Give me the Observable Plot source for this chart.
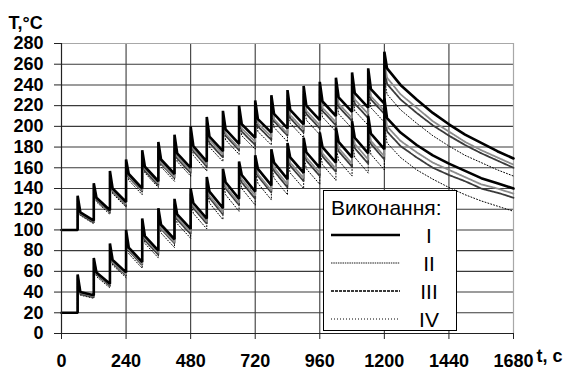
<!DOCTYPE html>
<html>
<head>
<meta charset="utf-8">
<script src="https://cdn.jsdelivr.net/npm/d3@7"></script>
<script src="https://cdn.jsdelivr.net/npm/@observablehq/plot@0.6"></script>
<style>
  html, body { margin: 0; padding: 0; background: #fff; }
  #wrap { position: relative; width: 572px; height: 373px; }
  #chart svg text { font-family: 'Liberation Sans', Arial, sans-serif; font-size: 18px; font-weight: bold; }
  #legend { position: absolute; left: 323px; top: 190px; width: 132px; height: 139px;
            border: 1.5px solid #000; background: #fff; }
</style>
</head>
<body>
<div id="wrap"><div id="chart"></div><div id="legend"></div></div>
<script>
// ---- axis ticks ----
const xTicks = [0, 240, 480, 720, 960, 1200, 1440, 1680];
const yTicks = [0, 20, 40, 60, 80, 100, 120, 140, 160, 180, 200, 220, 240, 260, 280];

// ---- pulse times (s) ----
const pulseTimes = [60, 120, 180, 240, 300, 360, 420, 480, 540, 600, 660, 720, 780, 840, 900, 960, 1020, 1080, 1140, 1200];
const coolTimes = [1260, 1320, 1380, 1440, 1500, 1560, 1620, 1680];

// ---- series labels ----
const variants = ["I", "II", "III", "IV"];

// ---- upper family (initial 100 °C), variant I ----
const upInit = 100;
const upPeakI   = [133, 145, 157, 168, 177, 185, 192, 200, 209, 215, 220, 225, 230, 235, 239, 243, 247, 252, 256, 272];
const upAfterI  = [117, 131, 140, 154, 161, 168, 174, 181, 190, 197, 202, 207, 212, 216, 220, 224, 228, 232, 236, 256];
const upBeforeI = [109, 119, 127, 140, 147, 154, 160, 166, 176, 183, 189, 194, 198, 202, 206, 210, 214, 218, 222];
const upCoolI   = [240, 226, 213, 202, 192, 184, 176, 169];
// lag of variants II, III, IV below variant I (°C)
const upLagII      = [1, 1, 2, 2, 2, 3, 3, 3, 3, 4, 4, 4, 5, 5, 5, 6, 6, 6, 7, 9];
const upLagIII     = [2, 2, 3, 3, 4, 4, 5, 5, 6, 6, 7, 7, 7, 8, 8, 9, 9, 10, 10, 15];
const upLagIV      = [3, 4, 5, 6, 6, 7, 8, 9, 10, 10, 11, 12, 13, 13, 14, 15, 16, 17, 18, 25];
const upCoolLagII  = [9, 8, 8, 7, 7, 7, 6, 6];
const upCoolLagIII = [14, 13, 12, 11, 10, 10, 9, 9];
const upCoolLagIV  = [24, 23, 22, 21, 20, 19, 18, 17];

// ---- lower family (initial 20 °C), variant I ----
const loInit = 20;
const loPeakI   = [57, 73, 87, 100, 111, 121, 130, 140, 151, 159, 166, 172, 178, 184, 189, 194, 199, 205, 210, 227];
const loAfterI  = [40, 59, 71, 83, 94, 105, 115, 126, 137, 146, 153, 159, 165, 170, 175, 180, 185, 189, 193, 208];
const loBeforeI = [37, 48, 59, 69, 80, 91, 101, 111, 121, 130, 137, 143, 149, 155, 160, 165, 170, 174, 178];
const loCoolI   = [194, 182, 172, 164, 157, 150, 145, 140];
const loLagII      = [1, 1, 2, 2, 2, 3, 3, 3, 4, 4, 4, 5, 5, 5, 5, 6, 6, 6, 7, 8];
const loLagIII     = [2, 2, 3, 3, 4, 4, 5, 5, 6, 6, 7, 7, 8, 8, 8, 9, 9, 10, 10, 13];
const loLagIV      = [3, 4, 5, 6, 7, 8, 9, 10, 11, 12, 13, 14, 15, 15, 16, 17, 18, 19, 20, 24];
const loCoolLagII  = [8, 7, 7, 6, 6, 6, 5, 5];
const loCoolLagIII = [13, 12, 12, 11, 10, 10, 9, 9];
const loCoolLagIV  = [24, 24, 23, 23, 23, 22, 22, 22];

const zeros20 = new Array(20).fill(0), zeros8 = new Array(8).fill(0);

function buildSeries(id, variant, init, peak, after, before, cool, lag, coolLag) {
  const pts = [];
  pts.push({id, variant, t: 0, T: init});
  pts.push({id, variant, t: pulseTimes[0], T: init});
  for (let k = 0; k < pulseTimes.length; k++) {
    const t = pulseTimes[k];
    pts.push({id, variant, t, T: peak[k] - lag[k]});
    pts.push({id, variant, t: t + 10, T: after[k] - lag[k]});
    if (k < before.length) pts.push({id, variant, t: pulseTimes[k + 1], T: before[k] - lag[k]});
  }
  coolTimes.forEach((t, i) => pts.push({id, variant, t, T: cool[i] - coolLag[i]}));
  return pts;
}

const data = [
  ...buildSeries("up-I", "I", upInit, upPeakI, upAfterI, upBeforeI, upCoolI, zeros20, zeros8),
  ...buildSeries("up-II", "II", upInit, upPeakI, upAfterI, upBeforeI, upCoolI, upLagII, upCoolLagII),
  ...buildSeries("up-III", "III", upInit, upPeakI, upAfterI, upBeforeI, upCoolI, upLagIII, upCoolLagIII),
  ...buildSeries("up-IV", "IV", upInit, upPeakI, upAfterI, upBeforeI, upCoolI, upLagIV, upCoolLagIV),
  ...buildSeries("lo-I", "I", loInit, loPeakI, loAfterI, loBeforeI, loCoolI, zeros20, zeros8),
  ...buildSeries("lo-II", "II", loInit, loPeakI, loAfterI, loBeforeI, loCoolI, loLagII, loCoolLagII),
  ...buildSeries("lo-III", "III", loInit, loPeakI, loAfterI, loBeforeI, loCoolI, loLagIII, loCoolLagIII),
  ...buildSeries("lo-IV", "IV", loInit, loPeakI, loAfterI, loBeforeI, loCoolI, loLagIV, loCoolLagIV)
];

const styles = {
  I:   {stroke: "#000", strokeWidth: 2.6, strokeDasharray: null},
  II:  {stroke: "#8c8c8c", strokeWidth: 1.8, strokeDasharray: "1.5,0.8"},
  III: {stroke: "#3a3a3a", strokeWidth: 1.8, strokeDasharray: "3,1"},
  IV:  {stroke: "#000", strokeWidth: 1, strokeDasharray: "1,2"}
};

const lineMarks = ["IV", "III", "II", "I"].map(v =>
  Plot.line(data.filter(d => d.variant === v), {
    x: "t", y: "T", z: "id",
    stroke: styles[v].stroke, strokeWidth: styles[v].strokeWidth,
    strokeDasharray: styles[v].strokeDasharray, strokeLinejoin: "miter"
  })
);

const chart = Plot.plot({
  width: 572, height: 373,
  marginLeft: 61, marginRight: 59, marginTop: 43, marginBottom: 40,
  x: {domain: [0, 1680]},
  y: {domain: [0, 280]},
  style: {fontFamily: "'Liberation Sans', Arial, sans-serif", fontSize: "18px", fontWeight: "bold", color: "#000", background: "#fff"},
  marks: [
    Plot.gridY(yTicks.filter(v => v > 0 && v < 280), {stroke: "#3a3a3a", strokeOpacity: 1, strokeWidth: 1.1}),
    Plot.gridX(xTicks.filter(v => v > 0 && v < 1680), {stroke: "#3a3a3a", strokeOpacity: 1, strokeWidth: 1.1}),
    Plot.ruleY([280], {stroke: "#a8a8a8", strokeWidth: 1.2}),
    Plot.ruleX([1680], {stroke: "#a8a8a8", strokeWidth: 1.2}),
    ...lineMarks,
    Plot.ruleX([0], {stroke: "#222", strokeWidth: 1.2}),
    Plot.ruleY([0], {stroke: "#222", strokeWidth: 1.2}),
    Plot.axisY(yTicks, {tickSize: 7, tickPadding: 11, label: null, tickFormat: d => `${d}`, stroke: "#222", fontSize: 18}),
    Plot.axisX(xTicks, {tickSize: 6, tickPadding: 15, label: null, tickFormat: d => `${d}`, stroke: "#222", fontSize: 18}),
    Plot.text(["T,°C"], {frameAnchor: "top-left", dx: -53, dy: -27, textAnchor: "start", fontSize: 18, fontWeight: "bold"}),
    Plot.text(["t, c"], {frameAnchor: "bottom-right", dx: 23, dy: 28, textAnchor: "start", fontSize: 18, fontWeight: "bold"})
  ]
});
document.getElementById("chart").appendChild(chart);

// ---- legend ----
const legendTitle = "Виконання:";
const lg = d3.select("#legend").append("svg").attr("width", 132).attr("height", 139)
  .style("font-family", "'Liberation Sans', Arial, sans-serif");
lg.append("text").attr("x", 7).attr("y", 24).attr("font-size", 21).text(legendTitle);
variants.forEach((v, i) => {
  const y = 44 + i * 28;
  const s = styles[v];
  lg.append("line").attr("x1", 7).attr("x2", 76).attr("y1", y).attr("y2", y)
    .attr("stroke", s.stroke).attr("stroke-width", s.strokeWidth)
    .attr("stroke-dasharray", s.strokeDasharray);
  lg.append("text").attr("x", 105).attr("y", y).attr("dy", "0.36em")
    .attr("text-anchor", "middle").attr("font-size", 21).text(v);
});
</script>
</body>
</html>
